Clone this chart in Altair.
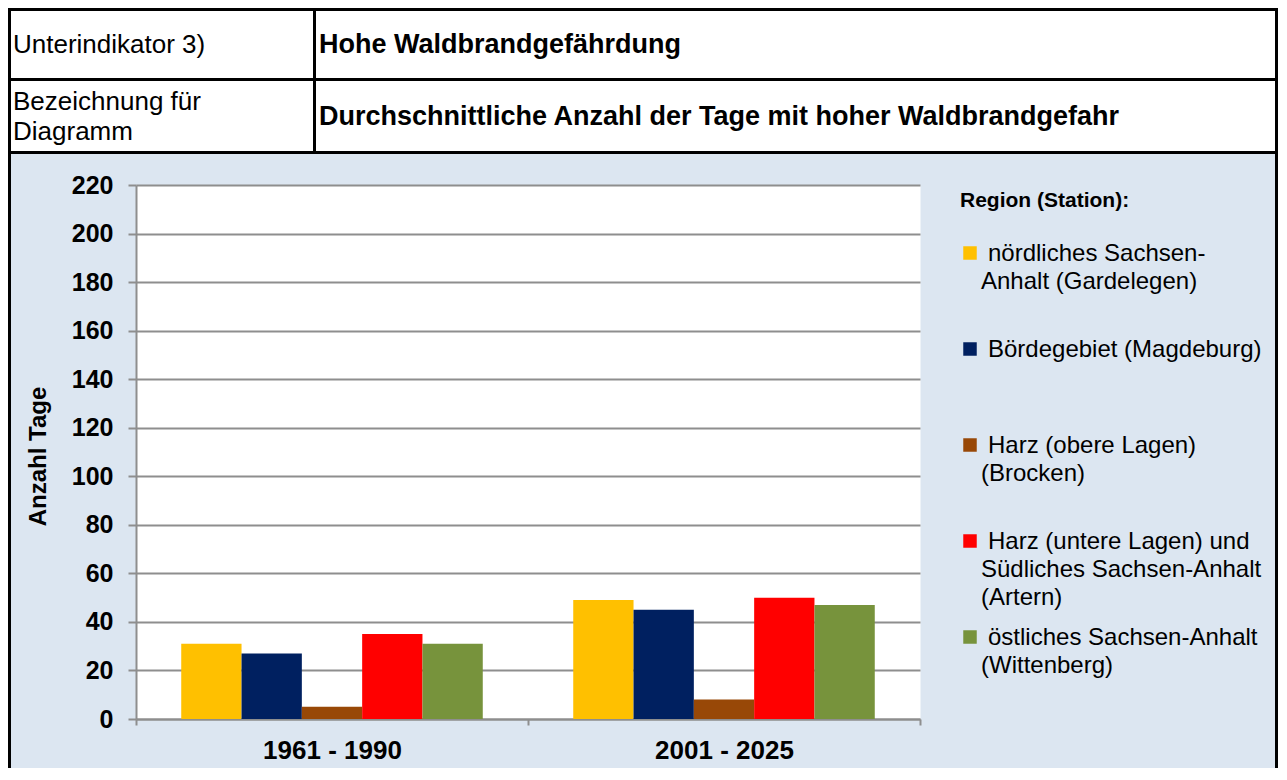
import altair as alt
import pandas as pd

# ---------------- data ----------------
periods = ["1961 - 1990", "2001 - 2025"]
regions = [
    "nördliches Sachsen-Anhalt (Gardelegen)",
    "Bördegebiet (Magdeburg)",
    "Harz (obere Lagen) (Brocken)",
    "Harz (untere Lagen) und Südliches Sachsen-Anhalt (Artern)",
    "östliches Sachsen-Anhalt (Wittenberg)",
]
legend_first = [
    "nördliches Sachsen-",
    "Bördegebiet (Magdeburg)",
    "Harz (obere Lagen)",
    "Harz (untere Lagen) und",
    "östliches Sachsen-Anhalt",
]
legend_rest = [
    ["Anhalt (Gardelegen)"],
    [],
    ["(Brocken)"],
    ["Südliches Sachsen-Anhalt", "(Artern)"],
    ["(Wittenberg)"],
]
colors = ["#FFC000", "#002060", "#984807", "#FF0000", "#77933C"]
values_1961_1990 = [31, 27, 5, 35, 31]
values_2001_2025 = [49, 45, 8, 50, 47]
y_ticks = [0, 20, 40, 60, 80, 100, 120, 140, 160, 180, 200, 220]

header_row1 = ["Unterindikator 3)", "Hohe Waldbrandgefährdung"]
header_row2 = [["Bezeichnung für", "Diagramm"],
               "Durchschnittliche Anzahl der Tage mit hoher Waldbrandgefahr"]
legend_title = "Region (Station):"
y_title = "Anzahl Tage"

rows = []
for p, vals in zip(periods, [values_1961_1990, values_2001_2025]):
    for r, v in zip(regions, vals):
        rows.append({"Zeitraum": p, "Region": r, "Tage": v})
df = pd.DataFrame(rows)
leg = pd.DataFrame({"Region": regions})
one = alt.Data(values=[{"k": 0}])

# ---------------- layout ----------------
FONT = "Liberation Sans"
W, H = 784, 534
PL, PT = 128, 177
TOTAL_W, TOTAL_H = 1270, 760
PR = TOTAL_W - PL - W
PB = TOTAL_H - PT - H
GRID = "#8E8E8E"
BG = "#DCE6F1"


def px(x):
    return x - (8 + PL)


def py(y):
    return y - (8 + PT)


color_scale = alt.Scale(domain=regions, range=colors)

bars = alt.Chart(df).mark_bar().encode(
    x=alt.X(
        "Zeitraum:N", sort=periods,
        scale=alt.Scale(paddingInner=0, paddingOuter=0),
        axis=alt.Axis(
            title=None, labelAngle=0, labelFont=FONT, labelFontSize=26,
            labelFontWeight="bold", labelColor="black", labelPadding=12,
            tickBand="extent", ticks=True, tickSize=6, tickColor=GRID,
            tickWidth=2, domainColor=GRID, domainWidth=2, grid=False,
        ),
    ),
    xOffset=alt.XOffset(
        "Region:N", sort=regions,
        scale=alt.Scale(paddingInner=0, paddingOuter=0.75),
    ),
    y=alt.Y(
        "Tage:Q",
        scale=alt.Scale(domain=[0, 220], nice=False),
        axis=alt.Axis(
            values=y_ticks, title=y_title, titleFont=FONT, titleFontSize=24,
            titleFontWeight="bold", titleColor="black", titleAngle=270,
            titleX=38 - (8 + PL), titleY=456 - (8 + PT), titleAlign="center",
            titleBaseline="middle",
            labelFont=FONT, labelFontSize=25, labelFontWeight="bold",
            labelColor="black", labelPadding=15, tickSize=8, tickColor=GRID,
            tickWidth=2, domainColor=GRID, domainWidth=2, grid=True,
            gridColor=GRID, gridWidth=2,
        ),
    ),
    color=alt.Color("Region:N", scale=color_scale, legend=None),
)

layers = []

# white header area
layers.append(alt.Chart(one).mark_rect(color="white").encode(
    x=alt.value(px(8)), x2=alt.value(px(8 + TOTAL_W)),
    y=alt.value(py(8)), y2=alt.value(py(153))))


def rule(x1, y1, x2, y2):
    return alt.Chart(one).mark_rule(color="black", strokeWidth=3).encode(
        x=alt.value(px(x1)), x2=alt.value(px(x2)),
        y=alt.value(py(y1)), y2=alt.value(py(y2)))


right_x = 8 + TOTAL_W - 1.5
bottom_y = 8 + TOTAL_H
layers += [
    rule(8, 9.5, 8 + TOTAL_W, 9.5),
    rule(8, 79.5, 8 + TOTAL_W, 79.5),
    rule(8, 152.5, 8 + TOTAL_W, 152.5),
    rule(314.5, 8, 314.5, 153),
    rule(9.5, 8, 9.5, bottom_y),
    rule(right_x, 8, right_x, bottom_y),
]


def text(t, x, y, size, bold=False, baseline="middle", line_height=None):
    kw = dict(text=t, align="left", baseline=baseline, font=FONT,
              fontSize=size, color="black")
    if bold:
        kw["fontWeight"] = "bold"
    if line_height:
        kw["lineHeight"] = line_height
    return alt.Chart(one).mark_text(**kw).encode(
        x=alt.value(px(x)), y=alt.value(py(y)))


layers += [
    text(header_row1[0], 13, 45, 26),
    text(header_row1[1], 319, 45, 27, bold=True),
    text(header_row2[0], 13, 102, 26, line_height=30),
    text(header_row2[1], 319, 117, 27, bold=True),
]

# legend
layers.append(text(legend_title, 960, 207, 21, bold=True, baseline="alphabetic"))
for i, name in enumerate(regions):
    cy = 253 + 96 * i
    layers.append(
        alt.Chart(leg).transform_filter(alt.datum.Region == name)
        .mark_square(size=182, opacity=1)
        .encode(x=alt.value(px(970)), y=alt.value(py(cy)),
                color=alt.Color("Region:N", scale=color_scale, legend=None)))
    layers.append(text(legend_first[i], 988, cy + 8, 24, baseline="alphabetic"))
    if legend_rest[i]:
        layers.append(text(legend_rest[i], 981, cy + 8 + 28, 24,
                           baseline="alphabetic", line_height=28))

chart = alt.layer(bars, *layers).properties(
    width=W, height=H,
    autosize=alt.AutoSizeParams(type="none"),
    padding={"left": PL, "top": PT, "right": PR, "bottom": PB},
    background=BG,
).configure_view(fill="white", strokeOpacity=0)

chart.save("out.html", embed_options={"renderer": "svg", "actions": False})
